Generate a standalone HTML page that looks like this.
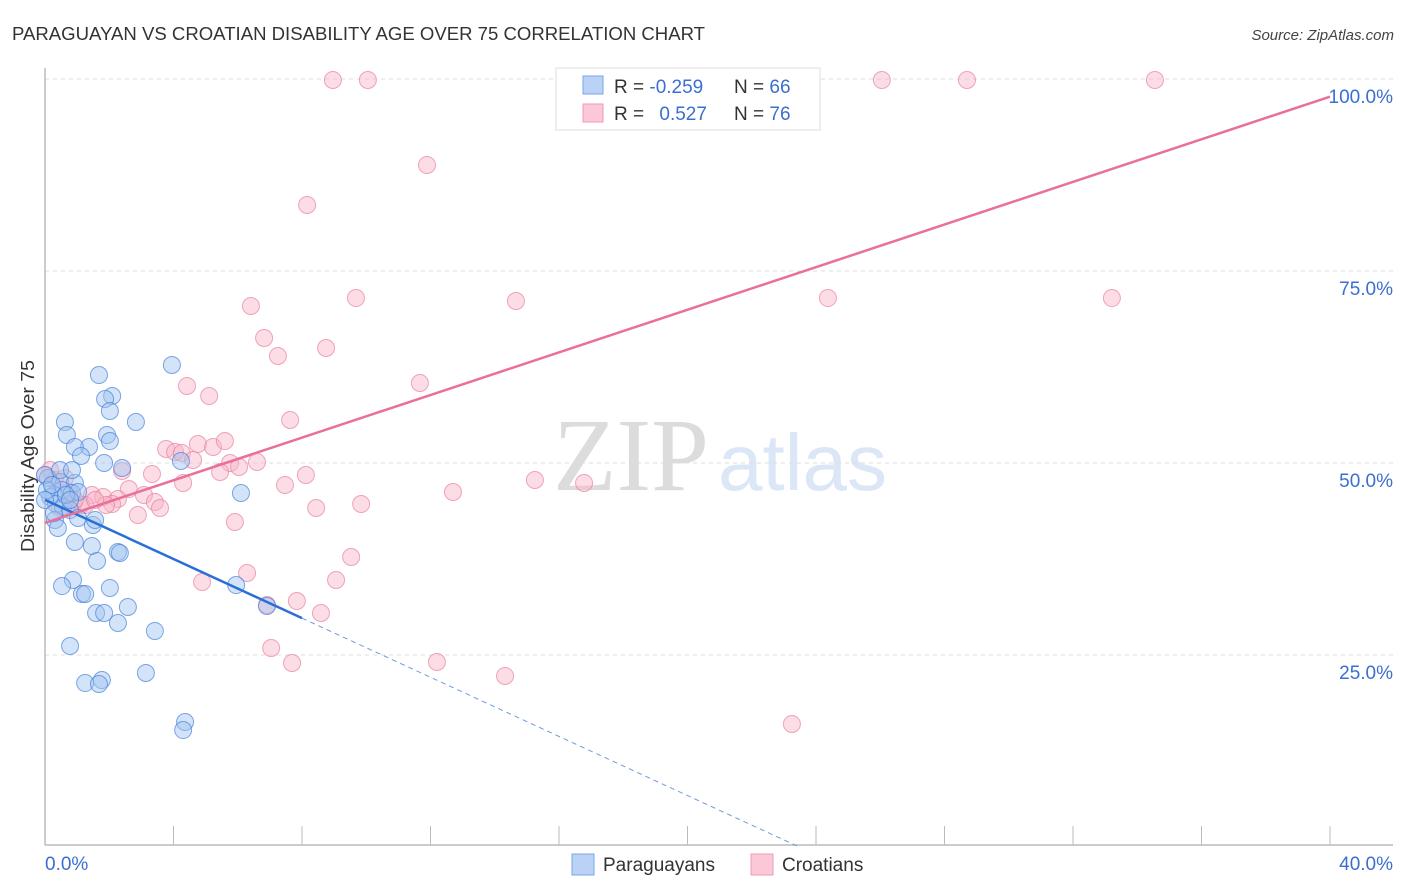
<!DOCTYPE html>
<html><head><meta charset="utf-8"><style>
body{margin:0;background:#fff;font-family:"Liberation Sans",sans-serif;}
svg{display:block}
</style></head><body>
<svg id="chart" width="1406" height="892" viewBox="0 0 1406 892" xmlns="http://www.w3.org/2000/svg">
<text x="12" y="40" font-size="18" fill="#333" textLength="693" lengthAdjust="spacingAndGlyphs">PARAGUAYAN VS CROATIAN DISABILITY AGE OVER 75 CORRELATION CHART</text>
<text x="1394" y="40" font-size="15" font-style="italic" fill="#444" text-anchor="end">Source: ZipAtlas.com</text>
<text x="553" y="490" font-family="Liberation Serif,serif" font-size="104" fill="#dcdcdc">ZIP</text>
<text x="718" y="490" font-size="80" fill="#dbe6f6">atlas</text>
<g id="grid"></g>
<g id="axes"></g>
<g id="pts"></g>
<g id="lines"></g>
<text transform="translate(34,456) rotate(-90)" font-size="18" fill="#333" text-anchor="middle" textLength="192" lengthAdjust="spacingAndGlyphs">Disability Age Over 75</text>
<g>
<rect x="556" y="68" width="264" height="62" fill="#fff" stroke="#ddd"/>
<rect x="583" y="76" width="20" height="18" fill="#b9d2f5" stroke="#7aa6e6"/>
<rect x="583" y="104" width="20" height="18" fill="#fcc8d8" stroke="#ee9ab4"/>
<text x="614" y="93" font-size="19" fill="#333">R = <tspan fill="#3a6fd1">-0.259</tspan></text>
<text x="734" y="93" font-size="19" fill="#333">N = <tspan fill="#3a6fd1">66</tspan></text>
<text x="614" y="120" font-size="19" fill="#333">R = <tspan fill="#3a6fd1" dx="10">0.527</tspan></text>
<text x="734" y="120" font-size="19" fill="#333">N = <tspan fill="#3a6fd1">76</tspan></text>
</g>
<g>
<rect x="572" y="854" width="22" height="21" fill="#b9d2f5" stroke="#7aa6e6"/>
<text x="603" y="871" font-size="19" fill="#333">Paraguayans</text>
<rect x="751" y="854" width="22" height="21" fill="#fcc8d8" stroke="#ee9ab4"/>
<text x="782" y="871" font-size="19" fill="#333">Croatians</text>
</g>
</svg>
<script>
const xTicks=[0,4,8,12,16,20,24,28,32,36,40];
const yTicks=[25,50,75,100];
const yTickLabels=["25.0%","50.0%","75.0%","100.0%"];
const xEndLabels=["0.0%","40.0%"];
const bluePx=[[99,375],[172,365],[112,396],[105,399],[110,411],[65,422],[136,422],[67,435],[107,435],[110,441],[89,447],[75,447],[81,456],[104,463],[181,461],[122,468],[241,493],[60,482],[48,478],[75,483],[62,490],[54,495],[72,493],[78,492],[50,497],[56,504],[63,507],[70,510],[78,518],[93,525],[55,520],[58,528],[75,542],[92,546],[97,561],[118,552],[120,553],[110,588],[73,580],[62,586],[82,594],[85,594],[96,613],[104,613],[128,607],[118,623],[155,631],[236,585],[267,606],[70,646],[85,683],[102,680],[99,684],[146,673],[185,722],[183,730],[45,475],[47,490],[52,485],[66,495],[60,470],[72,470],[45,500],[54,513],[95,520],[70,500]];
const pinkPx=[[333,80],[368,80],[603,80],[760,80],[882,80],[967,80],[1155,80],[427,165],[307,205],[251,306],[356,298],[516,301],[828,298],[1112,298],[264,338],[278,356],[326,348],[187,386],[420,383],[209,396],[290,420],[166,449],[175,452],[182,453],[198,444],[213,447],[225,441],[193,460],[230,463],[239,467],[257,462],[220,472],[152,474],[122,471],[306,475],[535,480],[584,483],[453,492],[183,483],[285,485],[129,489],[92,495],[103,497],[118,499],[144,495],[155,502],[112,504],[160,508],[106,505],[138,515],[316,508],[361,504],[235,522],[73,505],[60,508],[50,470],[55,480],[69,492],[81,505],[351,557],[247,573],[336,580],[202,582],[267,605],[297,601],[321,613],[271,648],[292,663],[437,662],[505,676],[792,724],[85,505],[65,478],[75,500],[45,475],[95,500]];
// convert read pixel estimates to data values (percent)
const blueX=bluePx.map(p=>+((p[0]-45)/32.125).toFixed(2));
const blueY=bluePx.map(p=>+((847-p[1])/7.68).toFixed(2));
const pinkX=pinkPx.map(p=>+((p[0]-45)/32.125).toFixed(2));
const pinkY=pinkPx.map(p=>+((847-p[1])/7.68).toFixed(2));
const blueTrend=[0,45.2,8,29.8];
const pinkTrend=[0,42.2,40,97.7];
const X=v=>45+v*32.125, Y=v=>847-v*7.68;
const NS="http://www.w3.org/2000/svg";
function mk(tag,attrs,parent,txt){const e=document.createElementNS(NS,tag);for(const k in attrs)e.setAttribute(k,attrs[k]);if(txt!=null)e.textContent=txt;parent.appendChild(e);return e;}
const grid=document.getElementById('grid'),axes=document.getElementById('axes'),pts=document.getElementById('pts'),lines=document.getElementById('lines');
yTicks.forEach((t,i)=>{
 const g=mk('line',{x1:45,x2:1393,y1:Y(t),y2:Y(t),stroke:'#ddd','stroke-dasharray':'4,4'},grid);
 
 
 const l=mk('text',{x:1393,y:Y(t)+24,'font-size':19,fill:'#3a6fd1','text-anchor':'end'},axes,yTickLabels[i]);
 
 
});
const ax=mk('line',{x1:45,x2:1393,y1:845,y2:845,stroke:'#bbb','stroke-width':1.5},axes);


const ay=mk('line',{x1:45,x2:45,y1:68,y2:845,stroke:'#bbb','stroke-width':1.5},axes);


xTicks.forEach(t=>{
 const tk=mk('line',{x1:X(t),x2:X(t),y1:826,y2:845,stroke:'#bbb'},axes);
 
 
});
const xl0=mk('text',{x:45,y:870,'font-size':19,fill:'#3a6fd1'},axes,xEndLabels[0]);


const xl1=mk('text',{x:1393,y:870,'font-size':19,fill:'#3a6fd1','text-anchor':'end'},axes,xEndLabels[1]);


pinkX.forEach((x,i)=>{
 const c=mk('circle',{cx:X(x),cy:Y(pinkY[i]),r:8.5,fill:'rgba(248,180,200,0.45)',stroke:'rgba(232,130,160,0.7)','stroke-width':1},pts);
 
 
});
blueX.forEach((x,i)=>{
 const c=mk('circle',{cx:X(x),cy:Y(blueY[i]),r:8.5,fill:'rgba(160,195,240,0.45)',stroke:'rgba(70,130,220,0.7)','stroke-width':1},pts);
 
 
});
const slope=(blueTrend[3]-blueTrend[1])/(blueTrend[2]-blueTrend[0]);
const bl=mk('line',{x1:X(blueTrend[0]),y1:Y(blueTrend[1]),x2:X(blueTrend[2]),y2:Y(blueTrend[3]),stroke:'#2a6fd6','stroke-width':2.5},lines);


const xz=blueTrend[0]-blueTrend[1]/slope;
const bd=mk('line',{x1:X(blueTrend[2]),y1:Y(blueTrend[3]),x2:X(xz),y2:Y(0),stroke:'#6f9be0','stroke-width':1,'stroke-dasharray':'5,4'},lines);


const pl=mk('line',{x1:X(pinkTrend[0]),y1:Y(pinkTrend[1]),x2:X(pinkTrend[2]),y2:Y(pinkTrend[3]),stroke:'#e8709a','stroke-width':2.5},lines);


</script>
</body></html>
